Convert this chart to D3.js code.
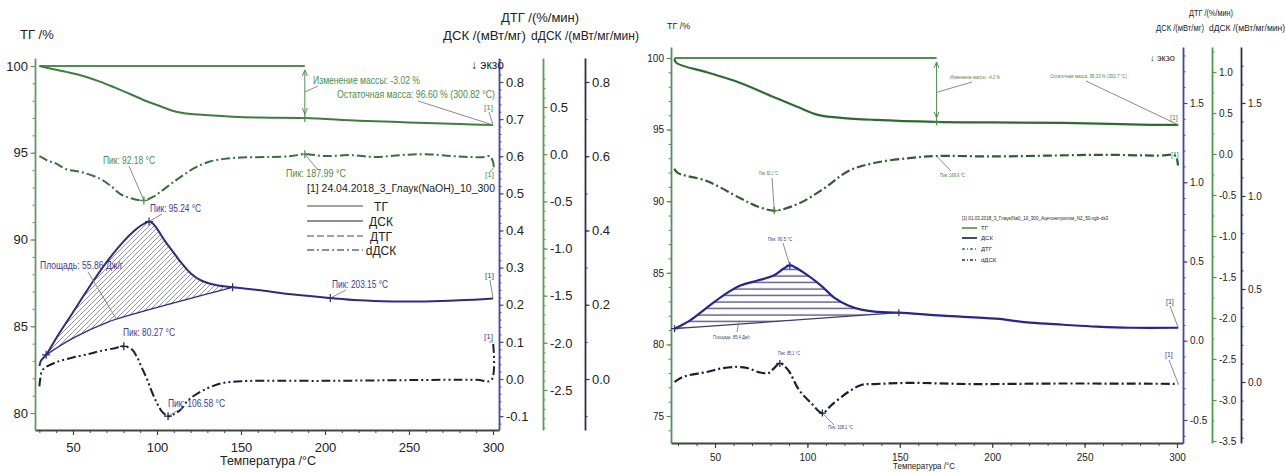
<!DOCTYPE html>
<html><head><meta charset="utf-8">
<script src="https://cdn.jsdelivr.net/npm/d3@7"></script>
<style>
body{margin:0;background:#fff}
svg{display:block}
text{font-family:"Liberation Sans",Arial,sans-serif}
.narrow{font-family:"Liberation Sans Narrow","Liberation Sans",Arial,sans-serif}
</style>
</head><body>
<svg id="c" width="1285" height="473"></svg>
<script>
// ---------------- DATA ----------------
const xMajor = [50, 100, 150, 200, 250, 300];

// Left panel (24.04.2018)
const L_tgT = [30, 35, 40, 46, 55, 66, 75, 86, 93, 100, 112, 125, 145, 160, 188, 220, 250, 280, 300];
const L_tgV = [100, 99.88, 99.78, 99.66, 99.45, 99.1, 98.75, 98.3, 98.0, 97.75, 97.35, 97.2, 97.08, 97.03, 97.0, 96.85, 96.75, 96.65, 96.6];
const L_dtgT = [30, 31, 35, 40, 46, 55, 66, 72, 78, 85, 92.18, 98, 102, 108, 115, 123, 131, 140, 150, 167, 180, 188, 200, 215, 230, 245, 260, 275, 285, 295, 298, 300, 300.5];
const L_dtgV = [-0.02, -0.03, -0.07, -0.1, -0.16, -0.19, -0.26, -0.33, -0.42, -0.47, -0.49, -0.45, -0.40, -0.32, -0.23, -0.14, -0.08, -0.05, -0.035, -0.03, -0.02, 0.0, -0.02, -0.01, -0.03, -0.01, 0.0, -0.02, -0.03, -0.03, -0.02, -0.08, -0.14];
const L_dscT = [30, 31, 34, 40, 50, 60, 70, 80, 86, 90, 93, 95.24, 97.5, 100, 105, 110, 115, 120, 126, 135, 145, 160, 180, 203.15, 220, 240, 260, 280, 300];
const L_dscV = [0.035, 0.05, 0.065, 0.11, 0.18, 0.25, 0.315, 0.37, 0.397, 0.412, 0.42, 0.424, 0.419, 0.405, 0.37, 0.34, 0.31, 0.285, 0.266, 0.253, 0.247, 0.24, 0.228, 0.218, 0.212, 0.209, 0.209, 0.212, 0.217];
const L_baseT = [34, 50, 70, 90, 110, 130, 145];
const L_baseV = [0.065, 0.11, 0.152, 0.18, 0.205, 0.229, 0.247];
const L_ddscT = [30, 30.5, 32, 40, 50, 60, 66, 75, 80.27, 85, 88, 91, 94, 97, 100, 103, 106.58, 110, 114, 118, 122, 130, 138, 150, 200, 250, 290, 299, 300];
const L_ddscV = [-0.02, 0.0, 0.025, 0.045, 0.058, 0.068, 0.075, 0.083, 0.088, 0.08, 0.06, 0.03, 0.0, -0.035, -0.065, -0.088, -0.10, -0.095, -0.083, -0.06, -0.045, -0.025, -0.012, -0.006, -0.005, -0.003, -0.002, -0.003, 0.1];

// Right panel (01.03.2018)
const R_tgT = [28, 29.2, 45.6, 63.7, 81.7, 94.8, 105.7, 118.3, 136.3, 169, 200, 238.5, 286, 300.7];
const R_tgV = [99.95, 99.65, 99.0, 98.26, 97.28, 96.58, 96.03, 95.82, 95.68, 95.54, 95.5, 95.47, 95.33, 95.33];
const R_dtgT = [28, 29.8, 45.6, 63.7, 73, 82.1, 94.8, 109, 122, 136, 155, 169.9, 200, 230, 260, 290, 299, 300.5];
const R_dtgV = [-0.18, -0.23, -0.33, -0.54, -0.64, -0.69, -0.61, -0.42, -0.21, -0.11, -0.05, -0.025, -0.03, -0.02, -0.01, -0.02, -0.02, -0.14];
const R_dscT = [28.1, 36.3, 45.6, 54.4, 63.7, 73, 81.7, 87.2, 90.5, 98, 107.4, 114.5, 122.1, 129.2, 136.3, 149.5, 173, 202, 220.5, 238.5, 256.6, 275, 300.7];
const R_dscV = [0.076, 0.127, 0.209, 0.285, 0.348, 0.38, 0.411, 0.456, 0.475, 0.43, 0.348, 0.272, 0.222, 0.196, 0.184, 0.177, 0.158, 0.139, 0.114, 0.101, 0.089, 0.082, 0.082];
const R_baseT = [28.1, 149.5];
const R_baseV = [0.076, 0.177];
const R_ddscT = [28.1, 32.5, 45.6, 54.4, 62, 67.5, 74, 79, 82, 85.1, 89.5, 95.5, 102, 108.1, 113, 122.1, 129.2, 136.3, 155, 189, 240, 300.7];
const R_ddscV = [0.0, 0.027, 0.054, 0.075, 0.081, 0.075, 0.052, 0.048, 0.075, 0.10, 0.065, -0.043, -0.113, -0.167, -0.124, -0.054, -0.016, -0.011, -0.005, -0.011, -0.008, -0.01];

const legendLabels = ["ТГ", "ДСК", "ДТГ", "dДСК"];

// ---------------- DRAWING ----------------
const svg = d3.select("#c");
const zip = (a, b) => a.map((t, i) => [t, b[i]]);
const rng = (a, b, s) => d3.range(Math.round(a / s), Math.round(b / s) + 1).map(k => +(k * s).toFixed(4));
const fmt1 = v => v.toFixed(1);
const fmt0 = v => String(v);

const defs = svg.append("defs");
const p1 = defs.append("pattern").attr("id", "hatchDiag").attr("patternUnits", "userSpaceOnUse").attr("width", 5).attr("height", 5);
p1.append("path").attr("d", "M-1,1 l2,-2 M0,5 l5,-5 M4,6 l2,-2").attr("stroke", "#7a7a88").attr("stroke-width", 0.8);
const p2 = defs.append("pattern").attr("id", "hatchHoriz").attr("patternUnits", "userSpaceOnUse").attr("width", 10).attr("height", 6.5);
p2.append("line").attr("x1", 0).attr("x2", 10).attr("y1", 3).attr("y2", 3).attr("stroke", "#3c3c70").attr("stroke-width", 1.2);

function vAxis(g, scale, xPos, yTop, yBot, side, major, minor, fmt, color, fs, cls) {
  const s = scale.copy().domain([scale.invert(yBot), scale.invert(yTop)]).range([yBot, yTop]);
  const mk = side === "left" ? d3.axisLeft : d3.axisRight;
  const d0 = s.domain(), lo = Math.min(...d0), hi = Math.max(...d0);
  const mn = minor.filter(v => v >= lo && v <= hi);
  const gm = g.append("g").attr("transform", `translate(${xPos},0)`)
    .call(mk(s).tickValues(mn).tickSize(2.5).tickFormat("").tickSizeOuter(0));
  gm.select(".domain").attr("stroke", color).attr("stroke-width", 1.8);
  gm.selectAll(".tick line").attr("stroke", color).attr("stroke-width", 1);
  const gM = g.append("g").attr("transform", `translate(${xPos},0)`)
    .call(mk(s).tickValues(major).tickSize(4.5).tickPadding(2.5).tickFormat(fmt).tickSizeOuter(0));
  gM.select(".domain").remove();
  gM.selectAll(".tick line").attr("stroke", color).attr("stroke-width", 1.2);
  gM.selectAll("text").attr("fill", "#222").style("font-size", fs + "px").attr("class", cls || null).style("font-family", null);
}
function hAxis(g, scale, yPos, xL, xR, major, minor, color, fs, pad, cls) {
  const s = scale.copy().domain([scale.invert(xL), scale.invert(xR)]).range([xL, xR]);
  const gm = g.append("g").attr("transform", `translate(0,${yPos})`)
    .call(d3.axisBottom(s).tickValues(minor).tickSize(3).tickFormat("").tickSizeOuter(0));
  gm.select(".domain").attr("stroke", color).attr("stroke-width", 2);
  gm.selectAll(".tick line").attr("stroke", color);
  const gM = g.append("g").attr("transform", `translate(0,${yPos})`)
    .call(d3.axisBottom(s).tickValues(major).tickSize(5).tickPadding(pad).tickFormat(fmt0).tickSizeOuter(0));
  gM.select(".domain").remove();
  gM.selectAll(".tick line").attr("stroke", color).attr("stroke-width", 1.2);
  gM.selectAll("text").attr("fill", "#222").style("font-size", fs + "px").attr("class", cls || null).style("font-family", null);
}
function txt(g, x, y, s, o) {
  const t = g.append("text").attr("x", x).attr("y", y).text(s).attr("fill", o.color || "#222").style("font-size", (o.fs || 10) + "px");
  if (o.w) t.attr("textLength", o.w).attr("lengthAdjust", "spacingAndGlyphs");
  if (o.anchor) t.attr("text-anchor", o.anchor);
  if (o.cls) t.attr("class", o.cls);
  return t;
}
function cross(g, px, py, c, r) {
  g.append("path").attr("d", `M${px - r},${py}H${px + r}M${px},${py - r}V${py + r}`).attr("stroke", c).attr("stroke-width", 1.2);
}

function drawPanel(P) {
  const g = svg.append("g");
  const x = d3.scaleLinear().domain([50, 300]).range(P.xR);
  const yTG = d3.scaleLinear().domain(P.tgD).range(P.tgR);
  const yDSC = d3.scaleLinear().domain(P.dscD).range(P.dscR);
  const yDTG = d3.scaleLinear().domain(P.dtgD).range(P.dtgR);
  const yDD = d3.scaleLinear().domain(P.ddD).range(P.ddR);
  const sc = { tg: yTG, dsc: yDSC, dtg: yDTG, dd: yDD };
  const line = ys => d3.line().x(d => x(d[0])).y(d => ys(d[1])).curve(d3.curveCatmullRom.alpha(0.5));

  // hatched peak area
  const dscPts = zip(P.dscT, P.dscV), basePts = zip(P.baseT, P.baseV);
  const t0 = P.baseT[0], t1 = P.baseT[P.baseT.length - 1];
  const upper = dscPts.filter(d => d[0] >= t0 && d[0] <= t1);
  const areaPath = line(yDSC)(upper) + line(yDSC)(basePts.slice().reverse()).replace(/^M/, "L") + "Z";
  g.append("path").attr("d", areaPath).attr("fill", `url(#${P.hatch})`);
  g.append("path").attr("d", line(yDSC)(basePts)).attr("fill", "none").attr("stroke", P.baseColor).attr("stroke-width", 1.3);

  // axes
  hAxis(g, x, P.xAxisY, P.axL, P.axR, xMajor, rng(30, 300, 10), P.xAxisColor, P.fs, P.xPad, P.cls);
  vAxis(g, yTG, P.axL, P.axTop, P.xAxisY, "left", P.tgMajor, P.tgMinor, fmt0, P.tgAxisColor, P.fs, P.cls);
  vAxis(g, yDSC, P.axR, P.axTop, P.xAxisY, "right", P.dscMajor, P.dscMinor, fmt1, P.dscAxisColor, P.fs, P.cls);
  vAxis(g, yDTG, P.dtgX, P.axTop, P.xAxisY, "right", P.dtgMajor, P.dtgMinor, fmt1, P.dtgAxisColor, P.fs, P.cls);
  vAxis(g, yDD, P.ddX, P.axTop, P.xAxisY, "right", P.ddMajor, P.ddMinor, fmt1, P.ddAxisColor, P.fs, P.cls);

  // titles
  P.titles.forEach(t => txt(g, t[0], t[1], t[2], { fs: t[3], anchor: t[4], w: t[5], cls: P.cls }));

  // mass reference line and arrow
  const tRef = P.massT;
  g.append("line").attr("x1", x(P.tgT[0])).attr("x2", x(tRef)).attr("y1", yTG(100)).attr("y2", yTG(100)).attr("stroke", P.refColor).attr("stroke-width", 1.8);
  const ya = yTG(100) + 4, yb = yTG(P.massV) - 4, xa = x(tRef);
  g.append("line").attr("x1", xa).attr("x2", xa).attr("y1", ya).attr("y2", yb).attr("stroke", P.refColor).attr("stroke-width", 1);
  g.append("path").attr("d", `M${xa - 2.5},${ya + 6}L${xa},${ya}L${xa + 2.5},${ya + 6}M${xa - 2.5},${yb - 6}L${xa},${yb}L${xa + 2.5},${yb - 6}`).attr("fill", "none").attr("stroke", P.refColor).attr("stroke-width", 1);

  // curves
  g.append("path").attr("d", line(yTG)(zip(P.tgT, P.tgV))).attr("fill", "none").attr("stroke", P.tgColor).attr("stroke-width", P.lw);
  g.append("path").attr("d", line(yDTG)(zip(P.dtgT, P.dtgV))).attr("fill", "none").attr("stroke", P.dtgColor).attr("stroke-width", P.lw).attr("stroke-dasharray", P.dtgDash);
  g.append("path").attr("d", line(yDSC)(dscPts)).attr("fill", "none").attr("stroke", P.dscColor).attr("stroke-width", P.lw);
  g.append("path").attr("d", line(yDD)(zip(P.ddT, P.ddV))).attr("fill", "none").attr("stroke", P.ddColor).attr("stroke-width", P.lw).attr("stroke-dasharray", P.ddDash);

  // annotations
  P.notes.forEach(n => {
    const sx = n.T != null ? x(n.T) : null, sy = n.T != null ? sc[n.s](n.v) : null;
    if (n.lx != null) {
      g.append("line").attr("x1", sx).attr("y1", sy).attr("x2", n.lx).attr("y2", n.ly).attr("stroke", "#8a8a8a").attr("stroke-width", 1);
    }
    if (n.mark) cross(g, sx, sy, n.mc || n.color, P.crossR);
    if (n.text) txt(g, n.tx, n.ty, n.text, { fs: n.fs || P.noteFs, color: n.color, w: n.w, cls: P.cls });
  });

  // legend
  const L = P.legend;
  txt(g, L.x, L.ty, L.title, { fs: L.tfs, w: L.tw, cls: P.cls });
  legendLabels.forEach((lab, i) => {
    const yy = L.ys[i];
    g.append("line").attr("x1", L.x1).attr("x2", L.x2).attr("y1", yy).attr("y2", yy).attr("stroke", L.colors[i]).attr("stroke-width", 1.6).attr("stroke-dasharray", L.dashes[i]);
    txt(g, L.lx, yy + L.fs * 0.4, lab, { fs: L.fs, anchor: L.anchor, cls: P.cls });
  });
}

const green = "#3f7d3f", greenT = "#4a8c4a", navy = "#2c2c84", dark = "#1d1d38";

// LEFT PANEL
drawPanel({
  xR: [73, 493], tgD: [80, 100], tgR: [413, 66], dscD: [0, 0.8], dscR: [379, 82],
  dtgD: [0.5, -2.5], dtgR: [107, 390], ddD: [0, 0.8], ddR: [379, 82],
  axL: 35, axR: 499, axTop: 58, xAxisY: 430, dtgX: 543, ddX: 585, fs: 13, xPad: 8, noteFs: 10, crossR: 4, lw: 2,
  tgMajor: [80, 85, 90, 95, 100], tgMinor: rng(79, 101, 1),
  dscMajor: rng(-0.1, 0.8, 0.1), dscMinor: rng(-0.14, 0.86, 0.02),
  dtgMajor: rng(-2.5, 0.5, 0.5), dtgMinor: rng(-2.9, 0.8, 0.1),
  ddMajor: [0, 0.2, 0.4, 0.6, 0.8], ddMinor: rng(-0.1, 0.8, 0.1),
  xAxisColor: "#3a4a3a", tgAxisColor: "#6a946a", dscAxisColor: "#4848a0", dtgAxisColor: "#5a9a5a", ddAxisColor: "#2e2e5e",
  tgColor: green, dtgColor: "#3a6e3a", dscColor: navy, ddColor: dark, refColor: "#4e8e4e", baseColor: navy,
  dtgDash: "9,3,2,3", ddDash: "9,3,2,3,2,3", hatch: "hatchDiag",
  tgT: L_tgT, tgV: L_tgV, dtgT: L_dtgT, dtgV: L_dtgV, dscT: L_dscT, dscV: L_dscV, baseT: L_baseT, baseV: L_baseV, ddT: L_ddscT, ddV: L_ddscV,
  massT: 187.99, massV: 97.0,
  titles: [[20, 39, "ТГ /%", 13], [540, 22, "ДТГ /(%/мин)", 13, "middle"], [443, 40, "ДСК /(мВт/мг)", 13, null, 83], [531, 40, "dДСК /(мВт/мг/мин)", 13, null, 108],
    [471, 69, "↓ экзо", 12], [268, 465, "Температура /°C", 13, "middle", 96]],
  notes: [
    { T: 187.99, s: "tg", v: 97.0, mark: true, color: greenT },
    { T: 187.99, s: "tg", v: 98.5, lx: 318, ly: 86, color: greenT, text: "Изменение массы: -3.02 %", tx: 313, ty: 84, w: 107 },
    { T: 300, s: "tg", v: 96.6, lx: 418, ly: 101, color: greenT, text: "Остаточная масса: 96.60 % (300.82 °C)", tx: 337, ty: 98, w: 158 },
    { T: 300, s: "tg", v: 96.6, lx: 489, ly: 112, color: greenT, text: "[1]", tx: 484, ty: 110, fs: 8 },
    { T: 92.18, s: "dtg", v: -0.49, mark: true, lx: 129, ly: 166, color: greenT, text: "Пик: 92.18 °C", tx: 103, ty: 164, w: 52 },
    { T: 187.99, s: "dtg", v: 0.0, mark: true, lx: 318, ly: 170, color: greenT, text: "Пик: 187.99 °C", tx: 286, ty: 177, w: 60 },
    { T: 300.5, s: "dtg", v: -0.14, lx: 490, ly: 172, color: greenT, text: "[1]", tx: 485, ty: 177, fs: 8 },
    { T: 95.24, s: "dsc", v: 0.424, mark: true, lx: 162, ly: 214, color: "#3c3c96", mc: navy, text: "Пик: 95.24 °C", tx: 150, ty: 212, w: 51 },
    { T: 34, s: "dsc", v: 0.065, mark: true, color: navy },
    { T: 145, s: "dsc", v: 0.247, mark: true, color: navy },
    { T: 76, s: "dsc", v: 0.16, lx: 88, ly: 272, color: "#3c3c96", text: "Площадь: 55.86 Дж/г", tx: 40, ty: 269, w: 83 },
    { T: 203.15, s: "dsc", v: 0.218, mark: true, lx: 346, ly: 290, color: "#3c3c96", mc: navy, text: "Пик: 203.15 °C", tx: 332, ty: 288, w: 56 },
    { T: 300, s: "dsc", v: 0.217, lx: 490, ly: 280, color: "#3c3c96", text: "[1]", tx: 485, ty: 278, fs: 8 },
    { T: 80.27, s: "dd", v: 0.088, mark: true, color: "#3c3c96", mc: dark, text: "Пик: 80.27 °C", tx: 123, ty: 336, w: 52 },
    { T: 106.58, s: "dd", v: -0.10, mark: true, lx: 182, ly: 408, color: "#3c3c96", mc: dark, text: "Пик: 106.58 °C", tx: 168, ty: 407, w: 57 },
    { T: 300, s: "dd", v: 0.1, lx: 489, ly: 342, color: "#3c3c96", text: "[1]", tx: 484, ty: 339, fs: 8 }
  ],
  legend: { x: 307, ty: 192, title: "[1] 24.04.2018_3_Глаук(NaOH)_10_300", tfs: 10.5, tw: 188, x1: 307, x2: 363, ys: [206, 221, 236, 250],
    colors: ["#7a8a7a", "#6a6a7a", "#7a8a7a", "#6a6a7a"], dashes: [null, null, "7,3", "7,3,2,3"], lx: 381, fs: 12, anchor: "middle" }
});

// RIGHT PANEL
drawPanel({
  xR: [715, 1177], tgD: [75, 100], tgR: [416, 58], dscD: [-0.5, 1.5], dscR: [420, 103],
  dtgD: [1, -3.5], dtgR: [72, 441], ddD: [0, 1.5], ddR: [382, 103],
  axL: 671, axR: 1183, axTop: 47, xAxisY: 443, dtgX: 1212, ddX: 1241, fs: 10, xPad: 6, noteFs: 6, crossR: 3.5, lw: 2.2, cls: "narrow",
  tgMajor: [75, 80, 85, 90, 95, 100], tgMinor: rng(73, 101, 1),
  dscMajor: [-0.5, 0, 0.5, 1.0, 1.5], dscMinor: rng(-0.6, 1.9, 0.1),
  dtgMajor: rng(-3.5, 1.0, 0.5), dtgMinor: rng(-3.5, 1.25, 0.25),
  ddMajor: [0, 0.5, 1.0, 1.5], ddMinor: rng(-0.3, 1.7, 0.1),
  xAxisColor: "#3a4a3a", tgAxisColor: "#5a8f5a", dscAxisColor: "#4646a8", dtgAxisColor: "#4e9a4e", ddAxisColor: "#2e2e5e",
  tgColor: "#2f6a2f", dtgColor: "#2f5f2f", dscColor: "#26268c", ddColor: dark, refColor: "#4e8e4e", baseColor: "#3c3c70",
  dtgDash: "9,3,2,3", ddDash: "9,3,2,3", hatch: "hatchHoriz",
  tgT: R_tgT, tgV: R_tgV, dtgT: R_dtgT, dtgV: R_dtgV, dscT: R_dscT, dscV: R_dscV, baseT: R_baseT, baseV: R_baseV, ddT: R_ddscT, ddV: R_ddscV,
  massT: 169.9, massV: 95.54,
  titles: [[667, 29, "ТГ /%", 9], [1211, 16, "ДТГ /(%/мин)", 9, "middle", 44], [1156, 31, "ДСК /(мВт/мг)", 9, null, 48], [1209, 31, "dДСК /(мВт/мг/мин)", 8.5],
    [1150, 61, "↓ экзо", 9], [924, 469, "Температура /°C", 9, "middle", 62]],
  notes: [
    { T: 169.9, s: "tg", v: 95.54, mark: true, color: greenT },
    { T: 169.9, s: "tg", v: 97.6, lx: 972, ly: 82, color: greenT, text: "Изменение массы: -4.2 %", tx: 950, ty: 79, w: 50 },
    { T: 300.7, s: "tg", v: 95.33, lx: 1086, ly: 81, color: greenT, text: "Остаточная масса: 95.33 % (300.7 °C)", tx: 1050, ty: 78, w: 77 },
    { T: 300.7, s: "tg", v: 95.33, color: greenT, text: "[1]", tx: 1170, ty: 120, fs: 7 },
    { T: 82.1, s: "dtg", v: -0.69, mark: true, lx: 772, ly: 178, color: "#3d7d3d", text: "Пик: 82.1 °C", tx: 759, ty: 175, w: 19 },
    { T: 169.9, s: "dtg", v: -0.025, lx: 951, ly: 171, color: "#3d7d3d", text: "Пик: 169.9 °C", tx: 940, ty: 177, w: 25 },
    { T: 300.5, s: "dtg", v: -0.14, color: greenT, text: "[1]", tx: 1171, ty: 157, fs: 7 },
    { T: 90.5, s: "dsc", v: 0.475, mark: true, lx: 783, ly: 243, color: "#3c3c80", mc: "#26268c", text: "Пик: 90.5 °C", tx: 768, ty: 241, w: 24 },
    { T: 28.1, s: "dsc", v: 0.076, mark: true, color: navy },
    { T: 149.5, s: "dsc", v: 0.177, mark: true, color: navy },
    { T: 63, s: "dsc", v: 0.128, lx: 737, ly: 332, color: "#3c3c80", text: "Площадь: 85.4 Дж/г", tx: 713, ty: 339, w: 37 },
    { T: 300.7, s: "dsc", v: 0.082, lx: 1170, ly: 306, color: "#3c3c80", text: "[1]", tx: 1166, ty: 304, fs: 7 },
    { T: 85.1, s: "dd", v: 0.10, mark: true, color: "#3c3c80", mc: dark, text: "Пик: 85.1 °C", tx: 778, ty: 355, w: 22 },
    { T: 108.1, s: "dd", v: -0.167, mark: true, lx: 834, ly: 425, color: "#3c3c80", mc: dark, text: "Пик: 108.1 °C", tx: 828, ty: 429, w: 25 },
    { T: 300.7, s: "dd", v: -0.01, lx: 1169, ly: 360, color: "#3c3c80", text: "[1]", tx: 1165, ty: 357, fs: 7 }
  ],
  legend: { x: 962, ty: 220, title: "[1] 01.03.2018_3_Глаук(NaI)_10_300_Ацетонитрилом_N2_50.ngb-ds3", tfs: 6, tw: 146, x1: 962, x2: 977, ys: [228, 238, 249, 260],
    colors: ["#4e8e4e", "#1d1d38", "#5a6a5a", "#2e2e4e"], dashes: [null, null, "3,2,1,2", "3,2,1,2"], lx: 981, fs: 6, anchor: "start" }
});
</script>
</body></html>
